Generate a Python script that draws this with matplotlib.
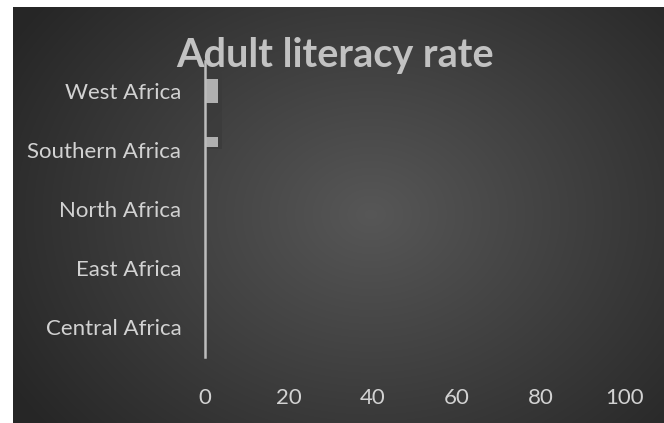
import numpy as np
import matplotlib
matplotlib.use("Agg")
import matplotlib.pyplot as plt
from matplotlib.patches import Rectangle

regions = ["Central Africa", "East Africa", "North Africa", "Southern Africa", "West Africa"]
literacy = [0, 0, 0, 3, 3]
x_ticks = [0, 20, 40, 60, 80, 100]

fig = plt.figure(figsize=(6.64, 4.23), dpi=100)
fig.patch.set_facecolor("white")

# dark radial background panel (leaves a white strip top/left)
bg = fig.add_axes([13 / 664, 0, 651 / 664, 416 / 423])
bg.set_axis_off()
yy, xx = np.mgrid[-1:1:300j, -1:1:400j]
rr = np.sqrt((xx - 0.1) ** 2 + (yy * 0.8) ** 2)
shade = 0.34 - 0.19 * np.clip(rr / 1.3, 0, 1)
img = np.dstack([shade, shade, shade])
bg.imshow(img, aspect="auto", extent=[0, 1, 0, 1], interpolation="bilinear")

ax = fig.add_axes([205 / 664, 66.5 / 423, 420 / 664, 295 / 423])
ax.patch.set_alpha(0)

y = np.arange(len(regions))
light = "#d2d2d2"

# selection box behind the two visible bars
ax.add_patch(Rectangle((-0.95, 3.02), 5.0, 1.285, facecolor="#3b3b3b",
                       edgecolor="none", alpha=0.8, zorder=1))
bars = ax.barh(y, literacy, height=0.42, color="#b0b0b0", zorder=2)
bars[3].set_height(0.17)
bars[3].set_y(3.05)

ax.set_xlim(0, 100)
ax.set_ylim(-0.5, 4.5)
ax.set_xticks(x_ticks)
ax.set_yticks(y)
ax.set_yticklabels(regions)
for s in ["top", "right", "bottom"]:
    ax.spines[s].set_visible(False)
ax.spines["left"].set_color("#bdbdbd")
ax.spines["left"].set_linewidth(1.8)
ax.spines["left"].set_zorder(3)
ax.tick_params(axis="both", length=0, labelsize=16, labelcolor=light)
ax.tick_params(axis="x", pad=23)
ax.tick_params(axis="y", pad=17)
for t in ax.get_xticklabels() + ax.get_yticklabels():
    t.set_family("Lato")

fig.text(0.505, 0.868, "Adult literacy rate", ha="center", va="center",
         fontsize=28.5, fontweight="bold", color="#c2c2c2", family="Lato")

fig.savefig("out.png", dpi=100)
